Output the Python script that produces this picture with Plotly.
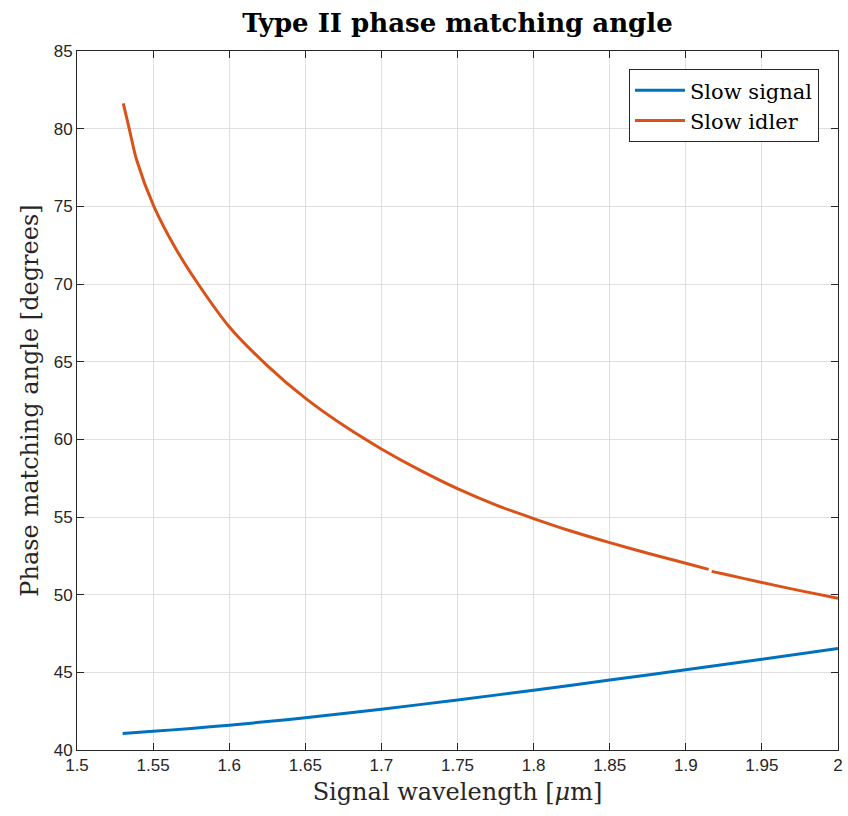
import plotly.graph_objects as go

# Data
signal_x = [1.53, 1.55, 1.575, 1.6, 1.625, 1.65, 1.7, 1.75, 1.8, 1.85, 1.9, 1.95, 2.0]
signal_y = [41.06, 41.2, 41.39, 41.6, 41.83, 42.07, 42.63, 43.22, 43.85, 44.5, 45.16, 45.84, 46.54]

idler_x = [1.5304, 1.5343, 1.5392, 1.5505, 1.5654, 1.5796, 1.6, 1.625, 1.65, 1.675, 1.7, 1.725,
           1.75, 1.775, 1.8, 1.825, 1.85, 1.875, 1.9, 1.915, None, 1.917, 1.925, 1.95, 1.975, 2.0]
idler_y = [81.63, 80.0, 77.98, 75.0, 72.19, 70.0, 67.25, 64.75, 62.65, 60.9, 59.38, 58.03,
           56.82, 55.78, 54.9, 54.08, 53.35, 52.67, 52.02, 51.63, None, 51.5, 51.33, 50.78, 50.26, 49.77]

x_ticks = [1.5, 1.55, 1.6, 1.65, 1.7, 1.75, 1.8, 1.85, 1.9, 1.95, 2.0]
x_tick_text = ["1.5", "1.55", "1.6", "1.65", "1.7", "1.75", "1.8", "1.85", "1.9", "1.95", "2"]
y_ticks = [40, 45, 50, 55, 60, 65, 70, 75, 80, 85]

fig = go.Figure()
fig.add_trace(go.Scatter(x=signal_x, y=signal_y, mode="lines", name="Slow signal",
                         line=dict(color="#0072BD", width=3, shape="spline", smoothing=0.8)))
fig.add_trace(go.Scatter(x=idler_x, y=idler_y, mode="lines", name="Slow idler",
                         line=dict(color="#D95319", width=3, shape="spline", smoothing=0.8),
                         connectgaps=False))

axis_common = dict(
    showline=True, linecolor="#262626", linewidth=1, mirror="ticks",
    ticks="inside", ticklen=7, tickcolor="#262626", tickwidth=1,
    showgrid=True, gridcolor="#dfdfdf", gridwidth=1, zeroline=False,
    tickfont=dict(family="Liberation Sans, Arial, sans-serif", size=17, color="#262626"),
)

fig.update_layout(
    width=848, height=816,
    margin=dict(l=77, r=5, t=51, b=66),
    paper_bgcolor="white", plot_bgcolor="white",
    title=dict(text="<b>Type II phase matching angle</b>",
               font=dict(family="DejaVu Serif, serif", size=26, color="black"),
               x=0.5, xref="paper", xanchor="center",
               y=1 - 23 / 816, yref="container", yanchor="middle"),
    xaxis=dict(range=[1.5, 2.0], tickvals=x_ticks, ticktext=x_tick_text,
               title=dict(text="Signal wavelength [<i>μ</i>m]",
                          font=dict(family="DejaVu Serif, serif", size=24, color="#262626"),
                          standoff=8),
               **axis_common),
    yaxis=dict(range=[40, 85], tickvals=y_ticks,
               title=dict(text="Phase matching angle [degrees]",
                          font=dict(family="DejaVu Serif, serif", size=24, color="#262626"),
                          standoff=8),
               **axis_common),
    legend=dict(x=0.975, y=0.974, xanchor="right", yanchor="top",
                bgcolor="white", bordercolor="#262626", borderwidth=1,
                itemwidth=50,
                font=dict(family="DejaVu Serif, serif", size=21, color="black")),
    showlegend=True,
)

fig.write_html("out.html")
